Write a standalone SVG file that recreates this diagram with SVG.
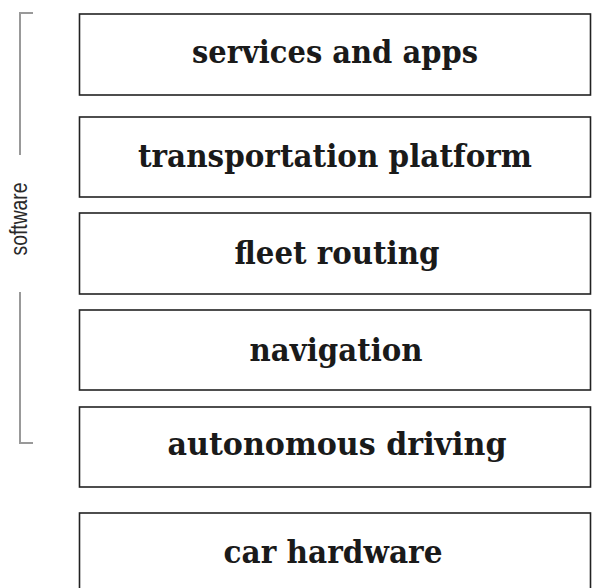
<svg xmlns="http://www.w3.org/2000/svg" width="592" height="588" viewBox="0 0 592 588">
<style>
.box{fill:#fff;stroke:#222;stroke-width:1.6}
.lbl{font-family:"DejaVu Serif","Liberation Serif",serif;font-size:26px;font-weight:bold;fill:#1a1a1a;text-anchor:middle}
.br{fill:none;stroke:#999;stroke-width:2}
.sw{font-family:"Liberation Sans Narrow","Liberation Sans",sans-serif;font-size:23px;fill:#2a2a2a;text-anchor:middle}
</style>
<rect x="0" y="0" width="592" height="588" fill="#fff"/>
<g id="software-bracket">
<path class="br" d="M33,13 H20 V155"/>
<path class="br" d="M20,292 V443 H33"/>
<text class="sw" transform="translate(27,219) rotate(-90)" textLength="73" lengthAdjust="spacingAndGlyphs">software</text>
</g>
<g id="services">
<rect class="box" x="79.5" y="14" width="511" height="81"/>
<text class="lbl" transform="translate(335,63) scale(1,1.22)" textLength="286" lengthAdjust="spacingAndGlyphs">services and apps</text>
</g>
<g id="transportation">
<rect class="box" x="79.5" y="117" width="511" height="80"/>
<text class="lbl" transform="translate(335,167) scale(1,1.22)" textLength="394" lengthAdjust="spacingAndGlyphs">transportation platform</text>
</g>
<g id="fleet">
<rect class="box" x="79.5" y="213" width="511" height="81"/>
<text class="lbl" transform="translate(337,264) scale(1,1.22)" textLength="205" lengthAdjust="spacingAndGlyphs">fleet routing</text>
</g>
<g id="navigation">
<rect class="box" x="79.5" y="310" width="511" height="80"/>
<text class="lbl" transform="translate(336,361) scale(1,1.22)" textLength="173" lengthAdjust="spacingAndGlyphs">navigation</text>
</g>
<g id="autonomous">
<rect class="box" x="79.5" y="407" width="511" height="80"/>
<text class="lbl" transform="translate(337,455) scale(1,1.22)" textLength="339" lengthAdjust="spacingAndGlyphs">autonomous driving</text>
</g>
<g id="hardware">
<rect class="box" x="79.5" y="513" width="511" height="82"/>
<text class="lbl" transform="translate(333,563) scale(1,1.22)" textLength="219" lengthAdjust="spacingAndGlyphs">car hardware</text>
</g>
<g id="connectors"></g>
</svg>
